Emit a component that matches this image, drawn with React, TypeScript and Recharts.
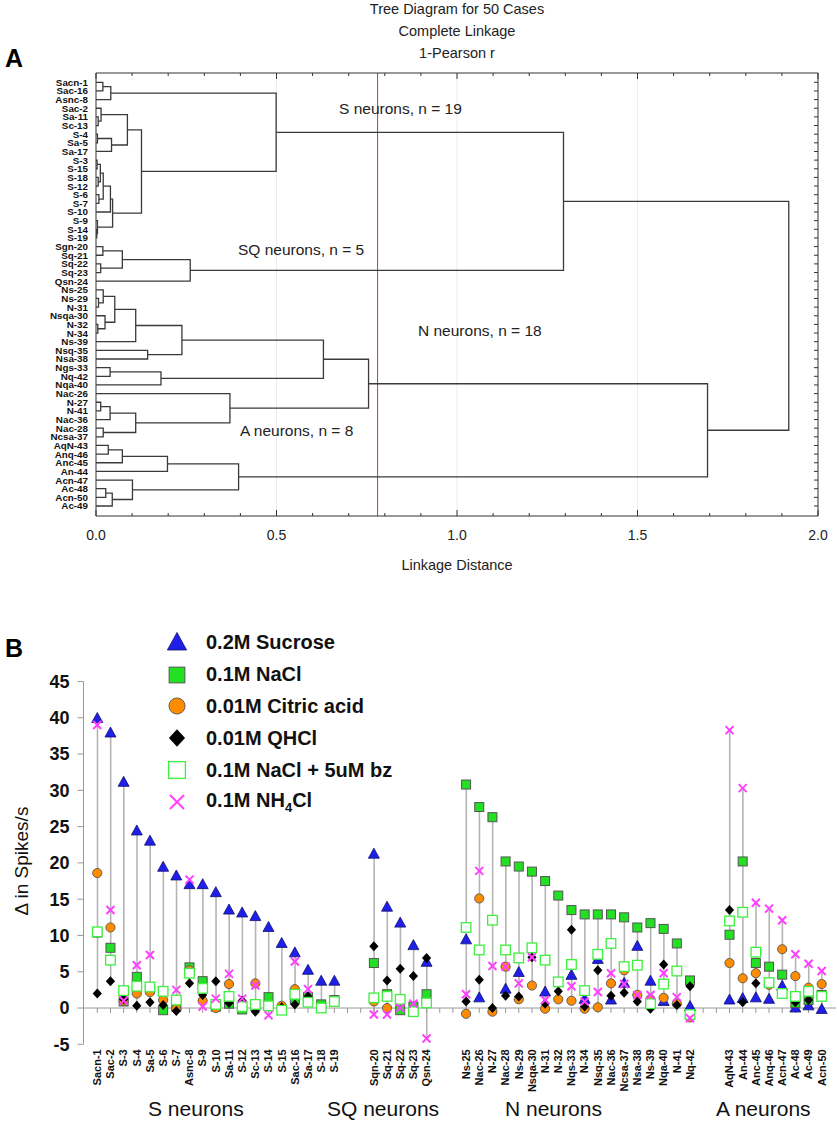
import React from 'react';
import {
  ScatterChart, Scatter, XAxis, YAxis, ReferenceLine,
  ComposedChart, Bar,
} from 'recharts';

const FONT = '"Liberation Sans", Arial, Helvetica, sans-serif';

// ---------- Panel A: dendrogram ----------
const leafNames = [
  'Sacn-1', 'Sac-16', 'Asnc-8', 'Sac-2', 'Sa-11', 'Sc-13', 'S-4', 'Sa-5', 'Sa-17', 'S-3',
  'S-15', 'S-18', 'S-12', 'S-6', 'S-7', 'S-10', 'S-9', 'S-14', 'S-19', 'Sgn-20',
  'Sq-21', 'Sq-22', 'Sq-23', 'Qsn-24', 'Ns-25', 'Ns-29', 'N-31', 'Nsqa-30', 'N-32', 'N-34',
  'Ns-39', 'Nsq-35', 'Nsa-38', 'Ngs-33', 'Nq-42', 'Nqa-40', 'Nac-26', 'N-27', 'N-41', 'Nac-36',
  'Nac-28', 'Ncsa-37', 'AqN-43', 'Anq-46', 'Anc-45', 'An-44', 'Acn-47', 'Ac-48', 'Acn-50', 'Ac-49',
];

// [cluster id, left member, right member, linkage distance]
const merges: [string, string, string, number][] = [
  ['c1', 'S-3', 'S-15', 0.003],
  ['c2', 'S-18', 'S-12', 0.006],
  ['c3', 'c1', 'c2', 0.012],
  ['c4', 'S-6', 'S-7', 0.008],
  ['c5', 'c3', 'c4', 0.02],
  ['c6', 'c5', 'S-10', 0.04],
  ['c7', 'S-14', 'S-19', 0.002],
  ['c8', 'S-9', 'c7', 0.004],
  ['c9', 'c6', 'c8', 0.046],
  ['c10', 'Sa-11', 'Sc-13', 0.006],
  ['c11', 'Sac-2', 'c10', 0.014],
  ['c12', 'S-4', 'Sa-5', 0.004],
  ['c13', 'c12', 'Sa-17', 0.043],
  ['c14', 'c11', 'c13', 0.087],
  ['c15', 'c14', 'c9', 0.126],
  ['c16', 'Sacn-1', 'Sac-16', 0.019],
  ['c17', 'c16', 'Asnc-8', 0.041],
  ['S', 'c17', 'c15', 0.499],
  ['q1', 'Sgn-20', 'Sq-21', 0.019],
  ['q2', 'Sq-22', 'Sq-23', 0.013],
  ['q3', 'q1', 'q2', 0.073],
  ['SQ', 'q3', 'Qsn-24', 0.261],
  ['SSQ', 'S', 'SQ', 1.295],
  ['n1', 'Ns-29', 'N-31', 0.007],
  ['n2', 'Ns-25', 'n1', 0.02],
  ['n3', 'N-32', 'N-34', 0.005],
  ['n4', 'Nsqa-30', 'n3', 0.025],
  ['n5', 'n2', 'n4', 0.052],
  ['n6', 'n5', 'Ns-39', 0.11],
  ['n7', 'Nsq-35', 'Nsa-38', 0.143],
  ['n8', 'n6', 'n7', 0.238],
  ['n9', 'Ngs-33', 'Nq-42', 0.039],
  ['n10', 'n9', 'Nqa-40', 0.18],
  ['n11', 'n8', 'n10', 0.63],
  ['n12', 'N-27', 'N-41', 0.013],
  ['n13', 'n12', 'Nac-36', 0.039],
  ['n14', 'Nac-28', 'Ncsa-37', 0.02],
  ['n15', 'n13', 'n14', 0.11],
  ['n16', 'Nac-26', 'n15', 0.371],
  ['N', 'n11', 'n16', 0.755],
  ['a1', 'AqN-43', 'Anq-46', 0.034],
  ['a2', 'a1', 'Anc-45', 0.073],
  ['a3', 'a2', 'An-44', 0.198],
  ['a4', 'Ac-48', 'Acn-50', 0.027],
  ['a5', 'a4', 'Ac-49', 0.045],
  ['a6', 'Acn-47', 'a5', 0.101],
  ['A', 'a3', 'a6', 0.395],
  ['NA', 'N', 'A', 1.694],
  ['root', 'SSQ', 'NA', 1.919],
];

const distTicks = [0, 0.1, 0.2, 0.3, 0.4, 0.5, 0.6, 0.7, 0.8, 0.9, 1, 1.1, 1.2, 1.3, 1.4, 1.5, 1.6, 1.7, 1.8, 1.9, 2];
const cutDistance = 0.78;

const clusterTexts = [
  { text: 'S neurons, n = 19', left: 339, top: 100 },
  { text: 'SQ neurons, n = 5', left: 238, top: 241 },
  { text: 'N neurons, n = 18', left: 418, top: 322 },
  { text: 'A neurons, n = 8', left: 240, top: 422 },
];

// ---------- Panel B: responses ----------
const caseNames = [
  'Sacn-1', 'Sac-2', 'S-3', 'S-4', 'Sa-5', 'S-6', 'S-7', 'Asnc-8', 'S-9', 'S-10',
  'Sa-11', 'S-12', 'Sc-13', 'S-14', 'S-15', 'Sac-16', 'Sa-17', 'S-18', 'S-19',
  'Sqn-20', 'Sq-21', 'Sq-22', 'Sq-23', 'Qsn-24',
  'Ns-25', 'Nac-26', 'N-27', 'Nac-28', 'Ns-29', 'Nsqa-30', 'N-31', 'N-32', 'Nqs-33', 'N-34',
  'Nsq-35', 'Nac-36', 'Ncsa-37', 'Nsa-38', 'Ns-39', 'Nqa-40', 'N-41', 'Nq-42',
  'AqN-43', 'An-44', 'Anc-45', 'Anq-46', 'Acn-47', 'Ac-48', 'Ac-49', 'Acn-50',
];
const groupNames = ['S neurons', 'SQ neurons', 'N neurons', 'A neurons'];
const groupSizes = [19, 5, 18, 8];

const sucrose = [
  39.9, 37.9, 31.1, 24.4, 23.0, 19.4, 18.2, 17.0, 17.0, 15.9,
  13.5, 13.1, 12.6, 11.1, 8.9, 7.6, 5.2, 3.7, 3.7,
  21.2, 13.9, 11.7, 8.6, 6.3,
  9.4, 1.4, null, 2.6, 4.9, null, 2.2, null, 4.5, 1.2,
  6.7, 1.1, 3.4, 8.5, 3.7, 0.9, null, 0.2,
  1.1, 1.3, 1.4, 1.2, 3.0, 0.0, 0.3, -0.2,
];
const nacl = [
  10.4, 8.3, 0.9, 4.3, 2.6, -0.3, 0.2, 5.6, 3.7, 0.2,
  0.6, -0.2, 0.3, 1.5, null, 1.2, 1.5, 0.5, 1.1,
  6.2, 1.9, -0.3, 0.2, 1.9,
  30.8, 27.7, 26.3, 20.2, 19.5, 18.8, 17.5, 15.5, 13.5, 12.9,
  12.9, 12.9, 12.5, 11.1, 11.7, 10.9, 8.9, 3.8,
  10.1, 20.2, 6.2, 5.7, 4.6, 0.7, 1.1, 1.8,
];
const citric = [
  18.6, 11.1, 1.0, 2.0, 2.2, 1.1, -0.1, 5.2, 1.0, 0.0,
  3.3, null, 3.4, null, 0.3, 2.6, null, null, null,
  0.9, 0.0, null, null, null,
  -0.8, 15.1, -0.5, 5.7, 1.2, 3.1, -0.1, 1.2, 1.0, -0.1,
  0.1, 3.4, 5.2, 1.8, 1.2, 1.4, 0.6, -1.3,
  6.2, 4.1, 4.8, 3.2, 8.1, 4.4, 2.8, 3.3,
];
const qhcl = [
  2.0, 3.7, 1.2, 0.3, 0.8, 0.4, -0.4, 3.4, 1.8, 3.7,
  0.7, 1.0, -0.5, null, 0.1, 0.5, 1.6, null, null,
  8.5, 3.8, 5.4, 4.4, 6.9,
  0.9, 3.9, 0.0, 1.7, 1.6, 7.0, 0.6, 2.3, 10.8, 0.2,
  5.2, 1.7, 2.1, 0.9, -0.1, 6.0, 0.4, 3.0,
  13.5, 0.8, 3.4, null, null, 0.8, 1.1, null,
];
const naclBz = [
  10.5, 6.6, 2.4, 3.0, 2.9, 2.3, 1.1, 4.8, 2.7, 0.5,
  1.6, 0.2, 0.5, 0.3, -0.3, 1.9, 0.8, 0.0, 0.9,
  1.4, 1.6, 1.2, -0.5, 0.7,
  11.1, 8.0, 12.1, 8.0, 6.9, 8.3, 6.6, 3.6, 6.0, 2.4,
  7.4, 8.9, 5.7, 5.9, 0.6, 3.3, 5.1, -0.9,
  12.0, 13.2, 7.7, 3.5, 2.0, 1.6, 2.3, 1.6,
];
const nh4cl = [
  39.0, 13.5, 1.0, 5.9, 7.3, null, 2.5, 17.7, 0.2, 1.3,
  4.7, 1.3, 3.1, -1.0, null, 6.4, 2.6, null, null,
  -0.9, -0.9, 0.0, 0.6, -4.2,
  1.9, 18.9, 5.8, 5.7, 3.4, 7.0, 1.1, null, 3.0, 0.9,
  2.2, 4.8, 3.3, 1.8, 1.8, 4.8, 1.5, -1.4,
  38.3, 30.3, 14.5, 13.7, 12.1, 7.4, 6.1, 5.1,
];
const yTicksB = [-5, 0, 5, 10, 15, 20, 25, 30, 35, 40, 45];

const groupLabelLefts = [148, 327, 505, 716];

// ---------- helpers ----------
const leafPos: Record<string, { x: number; y: number }> = {};
leafNames.forEach((n, i) => { leafPos[n] = { x: 0, y: i }; });
const brackets = merges.map(([id, l, r, h]) => {
  const a = leafPos[l];
  const b = leafPos[r];
  leafPos[id] = { x: h, y: (a.y + b.y) / 2 };
  return {
    id,
    points: [
      { x: a.x, y: a.y },
      { x: h, y: a.y },
      { x: h, y: b.y },
      { x: b.x, y: b.y },
    ],
  };
});
const leafIdx = leafNames.map((_, i) => i);

const rowsB: any[] = [];
{
  let k = 0;
  groupSizes.forEach((size, gi) => {
    if (gi > 0) {
      rowsB.push({ name: `gap-${gi}-a`, zero: 0 });
      rowsB.push({ name: `gap-${gi}-b`, zero: 0 });
    }
    for (let j = 0; j < size; j++, k++) {
      const vals = [sucrose[k], nacl[k], citric[k], qhcl[k], naclBz[k], nh4cl[k]].filter((v) => v != null) as number[];
      rowsB.push({
        name: caseNames[k],
        sucrose: sucrose[k],
        nacl: nacl[k],
        citric: citric[k],
        qhcl: qhcl[k],
        naclBz: naclBz[k],
        nh4cl: nh4cl[k],
        range: [Math.min(...vals), Math.max(...vals)],
        zero: 0,
      });
    }
  });
}

const Empty = () => <g />;

const drawTriangle = (cx: number, cy: number, s = 1) => (
  <polygon
    points={`${cx},${cy - 6 * s} ${cx - 5.5 * s},${cy + 4 * s} ${cx + 5.5 * s},${cy + 4 * s}`}
    fill="#1f1fe8" stroke="#101070" strokeWidth={0.8}
  />
);
const drawSquare = (cx: number, cy: number, s = 1) => (
  <rect x={cx - 4.5 * s} y={cy - 4.5 * s} width={9 * s} height={9 * s} fill="#22e022" stroke="#555" strokeWidth={1} />
);
const drawCircle = (cx: number, cy: number, s = 1) => (
  <circle cx={cx} cy={cy} r={4.6 * s} fill="#ff8c00" stroke="#555" strokeWidth={0.9} />
);
const drawDiamond = (cx: number, cy: number, s = 1) => (
  <polygon points={`${cx},${cy - 5 * s} ${cx + 4.6 * s},${cy} ${cx},${cy + 5 * s} ${cx - 4.6 * s},${cy}`} fill="#000" />
);
const drawOpenSquare = (cx: number, cy: number, s = 1) => (
  <rect x={cx - 4.8 * s} y={cy - 4.8 * s} width={9.6 * s} height={9.6 * s} fill="#fff" stroke="#3cf03c" strokeWidth={1.3} />
);
const drawCross = (cx: number, cy: number, s = 1) => (
  <g stroke="#ff40ff" strokeWidth={2}>
    <line x1={cx - 4 * s} y1={cy - 4 * s} x2={cx + 4 * s} y2={cy + 4 * s} />
    <line x1={cx - 4 * s} y1={cy + 4 * s} x2={cx + 4 * s} y2={cy - 4 * s} />
  </g>
);

const makeShape = (key: string, draw: (cx: number, cy: number) => React.ReactElement) => (props: any) => {
  const v = props.payload ? props.payload[key] : null;
  if (v == null || !Number.isFinite(props.cy) || !Number.isFinite(props.cx)) return <g />;
  return draw(props.cx, props.cy);
};

const seriesB = [
  { key: 'sucrose', label: '0.2M Sucrose', draw: drawTriangle },
  { key: 'nacl', label: '0.1M NaCl', draw: drawSquare },
  { key: 'citric', label: '0.01M Citric acid', draw: drawCircle },
  { key: 'qhcl', label: '0.01M QHCl', draw: drawDiamond },
  { key: 'naclBz', label: '0.1M NaCl + 5uM bz', draw: drawOpenSquare },
  { key: 'nh4cl', label: 'NH4', draw: drawCross },
];

// ---------- ticks ----------
const isMajor = (v: number) => Math.abs(v * 2 - Math.round(v * 2)) < 1e-6;

const DistBottomTick = (props: any) => {
  const { x, y, payload } = props;
  const v = payload.value as number;
  const major = isMajor(v);
  return (
    <g>
      <line x1={x} x2={x} y1={y} y2={y - (major ? 6 : 3)} stroke="#333" />
      {major && (
        <text x={x} y={y + 24} textAnchor="middle" fontSize={14} fill="#222" fontFamily={FONT}>
          {v.toFixed(1)}
        </text>
      )}
    </g>
  );
};
const DistTopTick = (props: any) => {
  const { x, y, payload } = props;
  const major = isMajor(payload.value);
  return <line x1={x} x2={x} y1={y} y2={y + (major ? 6 : 3)} stroke="#333" />;
};
const RightTick = (props: any) => {
  const { x, y } = props;
  return <line x1={x} x2={x - 4} y1={y} y2={y} stroke="#333" />;
};

const CaseTick = (props: any) => {
  const { x, y, payload } = props;
  const name = String(payload.value);
  if (name.startsWith('gap-')) return <g />;
  return (
    <text
      x={x} y={y} dy="0.35em" textAnchor="end" transform={`rotate(-90 ${x} ${y})`}
      fontSize={11} fontWeight="bold" fill="#111" fontFamily={FONT}
    >
      {name}
    </text>
  );
};

const abs = (left: number, top: number, extra: React.CSSProperties = {}): React.CSSProperties => ({
  position: 'absolute', left, top, whiteSpace: 'nowrap', ...extra,
});

export default function App() {
  return (
    <div style={{ position: 'absolute', left: 0, top: 0, width: 837, height: 1133, background: '#fff', fontFamily: FONT, overflow: 'hidden' }}>
      {/* Panel A */}
      <div style={abs(0, 0)}>
        <ScatterChart width={837} height={590} margin={{ top: 72, right: 18, bottom: 34, left: 10 }}>
          <XAxis
            xAxisId="b" type="number" dataKey="x" domain={[0, 2]} ticks={distTicks} interval={0}
            height={40} tickSize={0} tickMargin={0} tickLine={false} tick={DistBottomTick}
            axisLine={{ stroke: '#333' }} allowDataOverflow
          />
          <XAxis
            xAxisId="t" orientation="top" type="number" dataKey="x" domain={[0, 2]} ticks={distTicks} interval={0}
            height={1} tickSize={0} tickMargin={0} tickLine={false} tick={DistTopTick}
            axisLine={{ stroke: '#333' }} allowDataOverflow
          />
          <YAxis
            yAxisId="l" type="number" dataKey="y" domain={[-1.075, 50.156]} reversed allowDataOverflow
            ticks={leafIdx} interval={0} width={86} tickLine={false} tickSize={6} tickMargin={2}
            tickFormatter={(i: number) => leafNames[i] ?? ''}
            tick={{ fontSize: 9.8, fontWeight: 'bold', fill: '#111', fontFamily: FONT }}
            axisLine={{ stroke: '#333' }}
          />
          <YAxis
            yAxisId="r" orientation="right" type="number" dataKey="y" domain={[-1.075, 50.156]} reversed allowDataOverflow
            ticks={leafIdx} interval={0} width={1} tickSize={0} tickMargin={0} tickLine={false} tick={RightTick}
            axisLine={{ stroke: '#333' }}
          />
          {[0.5, 1, 1.5].map((v) => (
            <ReferenceLine key={v} xAxisId="b" yAxisId="l" x={v} stroke="#ececec" />
          ))}
          {brackets.map((b) => (
            <Scatter
              key={b.id} xAxisId="b" yAxisId="l" data={b.points}
              line={{ stroke: '#3a3a3a', strokeWidth: 1.3 }} shape={Empty}
              isAnimationActive={false} legendType="none"
            />
          ))}
          <ReferenceLine xAxisId="b" yAxisId="l" x={cutDistance} stroke="#d8352c" strokeWidth={1} />
        </ScatterChart>
      </div>

      <div style={abs(257, -2, { width: 400, textAlign: 'center', fontSize: 14.5, lineHeight: '22px', color: '#222' })}>
        <div>Tree Diagram for 50 Cases</div>
        <div>Complete Linkage</div>
        <div>1-Pearson r</div>
      </div>
      <div style={abs(5, 44, { fontSize: 25, fontWeight: 'bold' })}>A</div>
      {clusterTexts.map((c) => (
        <div key={c.text} style={abs(c.left, c.top, { fontSize: 15.5, color: '#222' })}>{c.text}</div>
      ))}
      <div style={abs(257, 557, { width: 400, textAlign: 'center', fontSize: 14.5, color: '#222' })}>Linkage Distance</div>

      {/* Panel B */}
      <div style={abs(0, 600)}>
        <ComposedChart width={837} height={533} data={rowsB} margin={{ top: 81.5, right: 1, bottom: 28.7, left: 0 }}>
          <XAxis
            dataKey="name" type="category" interval={0} height={60} padding={{ left: 7.2, right: 7.7 }}
            tickSize={0} tickMargin={5} tickLine={false} axisLine={false} tick={CaseTick}
          />
          <YAxis
            type="number" domain={[-5, 45]} ticks={yTicksB} interval={0} width={83.5}
            tickSize={6} tickMargin={8} allowDataOverflow
            tick={{ fontSize: 18, fontWeight: 'bold', fill: '#111', fontFamily: FONT }}
            tickLine={{ stroke: '#999' }} axisLine={{ stroke: '#999' }}
          />
          <ReferenceLine y={0} stroke="#999" />
          <Bar dataKey="range" barSize={1.6} fill="#b4b4b4" isAnimationActive={false} legendType="none" />
          <Scatter
            dataKey="zero" isAnimationActive={false} legendType="none"
            shape={(p: any) => <line x1={p.cx} x2={p.cx} y1={p.cy} y2={p.cy + 5} stroke="#999" />}
          />
          {seriesB.map((s) => (
            <Scatter key={s.key} dataKey={s.key} shape={makeShape(s.key, s.draw)} isAnimationActive={false} legendType="none" />
          ))}
        </ComposedChart>
      </div>

      <div style={abs(5, 634, { fontSize: 25, fontWeight: 'bold' })}>B</div>

      {/* legend */}
      <div style={abs(162, 627)}>
        {seriesB.map((s) => (
          <div key={s.key} style={{ display: 'flex', alignItems: 'center', height: 31.8 }}>
            <svg width={30} height={30} style={{ display: 'block' }}>
              {s.draw(15, 15, 1.75)}
            </svg>
            <span style={{ marginLeft: 14, fontSize: 20, fontWeight: 'bold', color: '#111' }}>
              {s.key === 'nh4cl' ? (<>0.1M NH<sub style={{ fontSize: 13 }}>4</sub>Cl</>) : s.label}
            </span>
          </div>
        ))}
      </div>

      <div style={abs(-78, 850, { width: 200, textAlign: 'center', fontSize: 19, color: '#111', transform: 'rotate(-90deg)' })}>
        Δ in Spikes/s
      </div>

      {groupNames.map((g, i) => (
        <div key={g} style={abs(groupLabelLefts[i], 1097, { fontSize: 21, color: '#111' })}>{g}</div>
      ))}
    </div>
  );
}
